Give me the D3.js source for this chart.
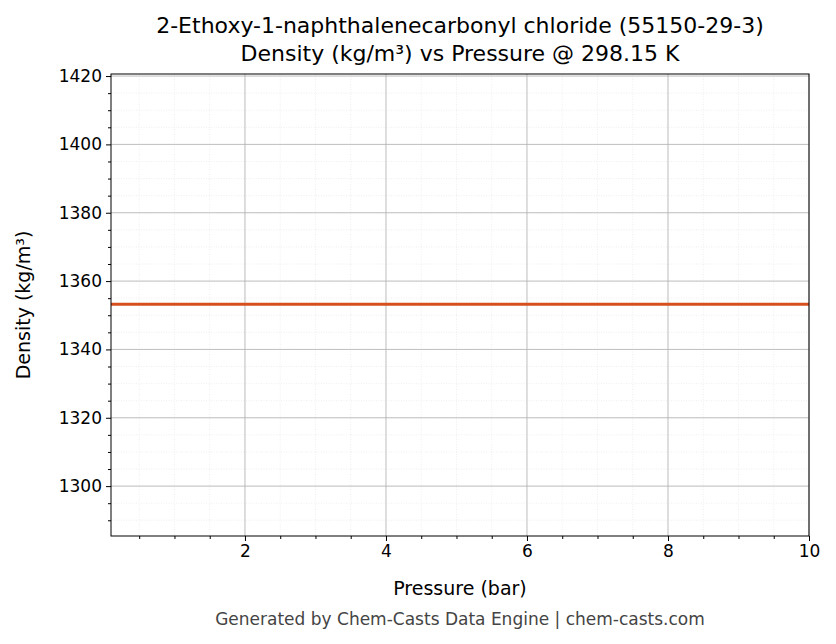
<!DOCTYPE html>
<html><head><meta charset="utf-8">
<script src="https://cdn.jsdelivr.net/npm/d3@7"></script>
<style>body{margin:0;background:#fff;font-family:"DejaVu Sans",sans-serif}</style>
</head><body>
<svg width="836" height="644"></svg>
<script>
var pressure = [0.1, 1, 2, 3, 4, 5, 6, 7, 8, 9, 10];
var density = [1353.2, 1353.2, 1353.2, 1353.2, 1353.2, 1353.2, 1353.2, 1353.2, 1353.2, 1353.2, 1353.2];
var xTicks = [2, 4, 6, 8, 10];
var yTicks = [1300, 1320, 1340, 1360, 1380, 1400, 1420];

var svg = d3.select("svg");
var L = 111, R = 809, T = 74, B = 536;
var x = d3.scaleLinear().domain([0.1, 10]).range([L, R]);
var y = d3.scaleLinear().domain([1285.4, 1420.6]).range([B, T]);

var xMinor = d3.range(0.5, 10.01, 0.5);
var yMinor = d3.range(1290, 1420.1, 5);

svg.append("g").selectAll("line").data(xMinor).enter().append("line")
    .attr("x1", d => x(d)).attr("x2", d => x(d)).attr("y1", T).attr("y2", B)
    .style("stroke", "#e4e4e4").style("stroke-width", 0.6).style("stroke-dasharray", "1,1.5");
svg.append("g").selectAll("line").data(yMinor).enter().append("line")
    .attr("y1", d => y(d)).attr("y2", d => y(d)).attr("x1", L).attr("x2", R)
    .style("stroke", "#e4e4e4").style("stroke-width", 0.6).style("stroke-dasharray", "1,1.5");
svg.append("g").selectAll("line").data(xTicks).enter().append("line")
    .attr("x1", d => x(d)).attr("x2", d => x(d)).attr("y1", T).attr("y2", B)
    .style("stroke", "#b0b0b0").style("stroke-width", 0.8);
svg.append("g").selectAll("line").data(yTicks).enter().append("line")
    .attr("y1", d => y(d)).attr("y2", d => y(d)).attr("x1", L).attr("x2", R)
    .style("stroke", "#b0b0b0").style("stroke-width", 0.8);

svg.append("path").datum(pressure.map((p, i) => [p, density[i]]))
    .attr("d", d3.line().x(d => x(d[0])).y(d => y(d[1])))
    .style("fill", "none").style("stroke", "#d6501f").style("stroke-width", 3);

svg.append("g").attr("transform", "translate(0," + B + ")")
    .call(d3.axisBottom(x).tickValues(xTicks).tickSize(5).tickPadding(4).tickFormat(d3.format("d")));
svg.append("g").attr("transform", "translate(0," + B + ")")
    .call(d3.axisBottom(x).tickValues(xMinor.filter(d => xTicks.indexOf(d) < 0)).tickSize(3).tickFormat(""));
svg.append("g").attr("transform", "translate(" + L + ",0)")
    .call(d3.axisLeft(y).tickValues(yTicks).tickSize(5).tickPadding(4).tickFormat(d3.format("d")));
svg.append("g").attr("transform", "translate(" + L + ",0)")
    .call(d3.axisLeft(y).tickValues(yMinor.filter(d => yTicks.indexOf(d) < 0)).tickSize(3).tickFormat(""));
svg.selectAll(".domain").remove();
svg.selectAll(".tick text").style("font-size", "17px").style("font-family", "DejaVu Sans").attr("fill", "#000");

svg.append("rect").attr("x", L).attr("y", T).attr("width", R - L).attr("height", B - T)
    .style("fill", "none").style("stroke", "#000").style("stroke-width", 1);

function label(t, px, py, size, color, rot) {
    var e = svg.append("text").attr("x", px).attr("y", py).attr("text-anchor", "middle")
        .style("font-size", size + "px").style("fill", color).text(t);
    if (rot) e.attr("transform", "rotate(-90," + px + "," + py + ")");
}
label("2-Ethoxy-1-naphthalenecarbonyl chloride (55150-29-3)", 460, 33, 22, "#000");
label("Density (kg/m³) vs Pressure @ 298.15 K", 460, 61, 22, "#000");
label("Pressure (bar)", 460, 595, 19, "#000");
label("Density (kg/m³)", 30, 305, 19, "#000", true);
label("Generated by Chem-Casts Data Engine | chem-casts.com", 460, 625, 17, "#444");
</script>
</body></html>
